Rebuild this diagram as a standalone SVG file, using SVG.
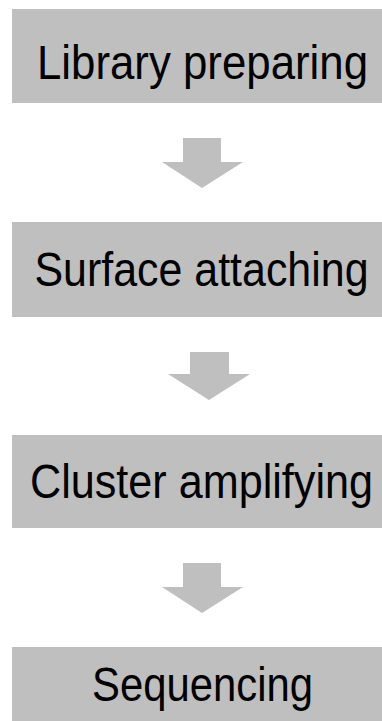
<svg xmlns="http://www.w3.org/2000/svg" width="382" height="721" viewBox="0 0 382 721">
  <style>
    .box { fill: #bfbfbf; }
    .arrow { fill: #bfbfbf; }
    .label { font-family: "Liberation Sans", Arial, sans-serif; font-size: 49px; fill: #000000; text-anchor: middle; }
  </style>
  <rect width="382" height="721" fill="#ffffff"/>

  <g id="connectors">
    <polygon class="arrow" points="183,138 221,138 221,162 243,162 202,188 162,162 183,162"/>
    <polygon class="arrow" points="190,352 229,352 229,374 250,374 209,400 168,374 190,374"/>
    <polygon class="arrow" points="183,563 221,563 221,587 243,587 202,613 162,587 183,587"/>
  </g>

  <g id="library-preparing">
    <rect class="box" x="12" y="9" width="370" height="94"/>
    <text class="label" x="202.5" y="79" textLength="331" lengthAdjust="spacingAndGlyphs">Library preparing</text>
  </g>

  <g id="surface-attaching">
    <rect class="box" x="12" y="222" width="370" height="95"/>
    <text class="label" x="201.5" y="286" textLength="334" lengthAdjust="spacingAndGlyphs">Surface attaching</text>
  </g>

  <g id="cluster-amplifying">
    <rect class="box" x="12" y="435" width="370" height="93"/>
    <text class="label" x="201.5" y="498" textLength="343" lengthAdjust="spacingAndGlyphs">Cluster amplifying</text>
  </g>

  <g id="sequencing">
    <rect class="box" x="12" y="647" width="370" height="74"/>
    <text class="label" x="202.5" y="701" textLength="221" lengthAdjust="spacingAndGlyphs">Sequencing</text>
  </g>
</svg>
